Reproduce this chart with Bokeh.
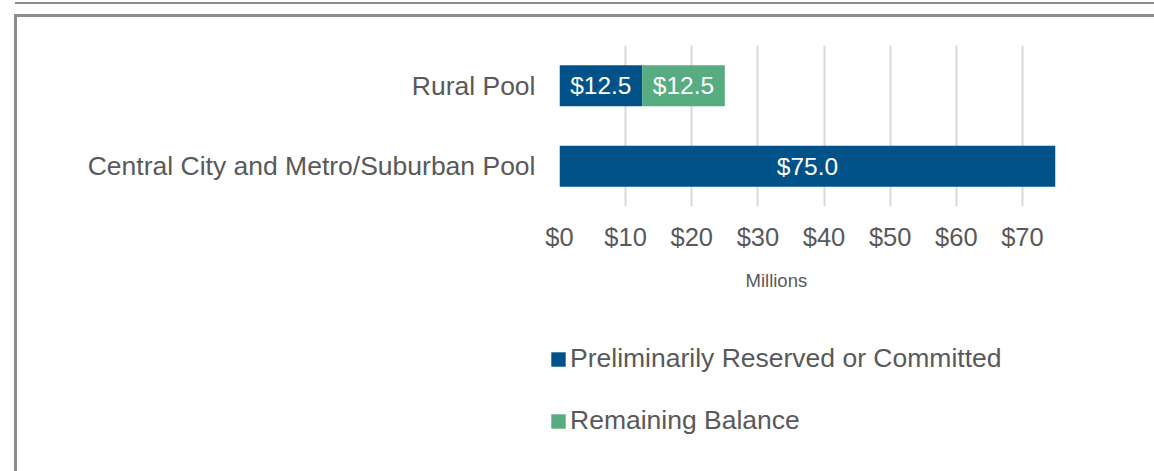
from bokeh.plotting import figure
from bokeh.layouts import column
from bokeh.models import (FactorRange, Range1d, FixedTicker, ColumnDataSource,
                          LabelSet, Title)
from bokeh.core.properties import value
from bokeh.embed import file_html
from bokeh.resources import INLINE

# ---- data ----
categories = ["Rural Pool", "Central City and Metro/Suburban Pool"]
reserved = [12.5, 75.0]
remaining = [12.5, 0.0]
series_names = ["Preliminarily Reserved or Committed", "Remaining Balance"]
tick_values = [0, 10, 20, 30, 40, 50, 60, 70]
tick_labels = ["$0", "$10", "$20", "$30", "$40", "$50", "$60", "$70"]
axis_unit_label = "Millions"

BLUE = "#005288"
GREEN = "#57AC82"
TEXT = "#595959"
FONT = "Liberation Sans"
FRAME = "#8c8c8c"

source = ColumnDataSource(dict(cat=categories, reserved=reserved, remaining=remaining))

# ---------------- chart ----------------
p = figure(width=1137, height=303,
           y_range=FactorRange(factors=list(reversed(categories))),
           x_range=Range1d(0, 75),
           output_backend="svg", toolbar_location=None, title=None,
           min_border_left=542, min_border_right=99,
           min_border_top=28, min_border_bottom=114)
p.frame_align = False
p.outline_line_color = None
p.background_fill_color = "white"
p.border_fill_color = "white"

p.hbar_stack(["reserved", "remaining"], y="cat", height=0.51, color=[BLUE, GREEN],
             line_color=None, source=source)

# bar value labels
lab_x, lab_y, lab_t = [], [], []
for c, a, b in zip(categories, reserved, remaining):
    if a > 0:
        lab_x.append(a / 2); lab_y.append(c); lab_t.append(f"${a:.1f}")
    if b > 0:
        lab_x.append(a + b / 2); lab_y.append(c); lab_t.append(f"${b:.1f}")
lsrc = ColumnDataSource(dict(x=lab_x, y=lab_y, t=lab_t))
p.add_layout(LabelSet(x="x", y="y", text="t", source=lsrc, text_align="center",
                      text_baseline="middle", text_color="white",
                      text_font=value(FONT), text_font_size="24.5px"))

# axes
p.xaxis.ticker = FixedTicker(ticks=tick_values)
p.xaxis.major_label_overrides = {v: l for v, l in zip(tick_values, tick_labels)}
p.xaxis.axis_line_color = None
p.xaxis.major_tick_line_color = None
p.xaxis.minor_tick_line_color = None
p.xaxis.major_tick_out = 0
p.xaxis.major_tick_in = 0
p.xaxis.major_label_text_font = FONT
p.xaxis.major_label_text_font_size = "25.5px"
p.xaxis.major_label_text_color = TEXT
p.xaxis.major_label_standoff = 16

p.yaxis.axis_line_color = None
p.yaxis.major_tick_line_color = None
p.yaxis.minor_tick_line_color = None
p.yaxis.major_tick_out = 0
p.yaxis.major_tick_in = 0
p.yaxis.major_label_text_font = FONT
p.yaxis.major_label_text_font_size = "26.5px"
p.yaxis.major_label_text_color = TEXT
p.yaxis.major_label_standoff = 24

p.xgrid.grid_line_color = "#d9d9d9"
p.xgrid.grid_line_width = 2
p.ygrid.grid_line_color = None

# unit label under the axis
p.add_layout(Title(text=axis_unit_label, align="left", offset=186, standoff=28,
                   text_font=FONT, text_font_size="18.5px", text_font_style="normal",
                   text_color=TEXT), "below")

# ---------------- legend area ----------------
# (the legend panel's data range is kept away from the data, so only the legend shows)
q = figure(width=1137, height=151,
           y_range=FactorRange(factors=list(reversed(categories))),
           x_range=Range1d(-2, -1), x_axis_type=None, y_axis_type=None,
           output_backend="svg", toolbar_location=None, title=None,
           min_border=0, min_border_left=0, min_border_right=0,
           min_border_top=0, min_border_bottom=0)
q.frame_align = False
q.outline_line_color = None
q.grid.grid_line_color = None
q.background_fill_color = "white"
q.border_fill_color = "white"
q.hbar_stack(["reserved", "remaining"], y="cat", height=0.51, color=[BLUE, GREEN],
             line_color=None, source=source, legend_label=series_names)

lg = q.legend[0]
lg.location = (532, 35)
lg.orientation = "vertical"
lg.border_line_color = None
lg.background_fill_alpha = 0
lg.padding = 0
lg.margin = 0
lg.glyph_width = 18
lg.glyph_height = 18
lg.label_standoff = 3
lg.label_height = 30
lg.spacing = 31
lg.label_text_font = FONT
lg.label_text_font_size = "26.5px"
lg.label_text_color = TEXT

layout = column(p, q, spacing=0)
# page frame lines around the chart area
layout.styles = {
    "margin-left": "17px",
    "margin-top": "17px",
    "box-shadow": f"0 0 0 3px {FRAME}, 0 -10px 0 3px #ffffff, 1px -12px 0 3px {FRAME}",
}

open("out.html", "w").write(file_html(layout, INLINE))
